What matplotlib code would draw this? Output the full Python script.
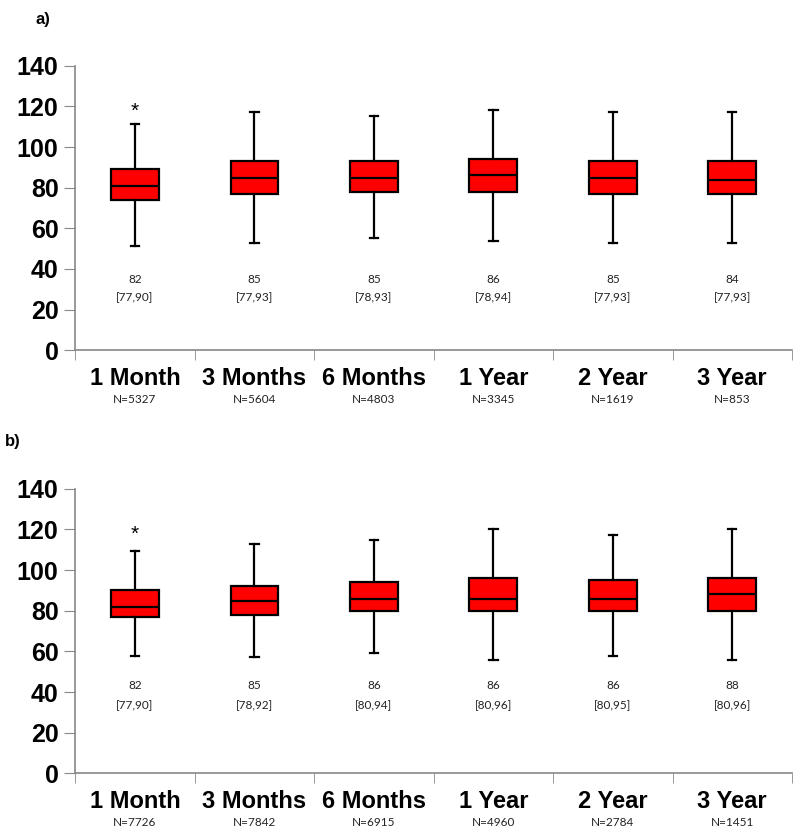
import matplotlib
matplotlib.use("Agg")
import matplotlib.pyplot as plt
from matplotlib.ticker import FixedLocator, NullFormatter

categories = ["1 Month", "3 Months", "6 Months", "1 Year", "2 Year", "3 Year"]

# panel a) box statistics
a_whislo = [51.5, 53, 55, 54, 53, 53]
a_q1 = [74, 77, 78, 78, 77, 77]
a_med = [81, 85, 85, 86, 85, 84]
a_q3 = [89, 93, 93, 94, 93, 93]
a_whishi = [111.5, 117, 115.5, 118, 117, 117]
a_median_txt = ["82", "85", "85", "86", "85", "84"]
a_iqr_txt = ["[77,90]", "[77,93]", "[78,93]", "[78,94]", "[77,93]", "[77,93]"]
a_n = ["N=5327", "N=5604", "N=4803", "N=3345", "N=1619", "N=853"]

# panel b)
b_whislo = [57.5, 57, 59, 56, 57.5, 56]
b_q1 = [77, 78, 80, 80, 80, 80]
b_med = [82, 85, 86, 86, 86, 88]
b_q3 = [90, 92, 94, 96, 95, 96]
b_whishi = [109.5, 113, 115, 120, 117.5, 120]
b_median_txt = ["82", "85", "86", "86", "86", "88"]
b_iqr_txt = ["[77,90]", "[78,92]", "[80,94]", "[80,96]", "[80,95]", "[80,96]"]
b_n = ["N=7726", "N=7842", "N=6915", "N=4960", "N=2784", "N=1451"]

star_y = 117.5  # asterisk over 1 Month (text centre)

plt.rcParams["font.family"] = ["Liberation Sans", "DejaVu Sans"]

fig = plt.figure(figsize=(8, 8.32), dpi=100)
ax_a = fig.add_axes([0.094, 0.579, 0.896, 0.342])
ax_b = fig.add_axes([0.094, 0.0705, 0.896, 0.342])


def draw_panel(ax, whislo, q1, med, q3, whishi, med_txt, iqr_txt, ns, txt_y):
    pos = list(range(1, len(categories) + 1))
    stats = []
    for i in range(len(categories)):
        stats.append({"whislo": whislo[i], "q1": q1[i], "med": med[i],
                      "q3": q3[i], "whishi": whishi[i], "fliers": []})
    ax.bxp(stats, positions=pos, widths=0.4, patch_artist=True, showfliers=False,
           boxprops=dict(facecolor="#ff0000", edgecolor="black", linewidth=1.6),
           medianprops=dict(color="black", linewidth=1.6),
           whiskerprops=dict(color="black", linewidth=1.6),
           capprops=dict(color="black", linewidth=1.6), capwidths=0.07)

    ax.set_xlim(0.5, len(categories) + 0.5)
    ax.set_ylim(0, 140)
    ax.set_yticks(range(0, 141, 20))
    ax.tick_params(axis="y", labelsize=18, length=8, color="#888888", pad=4)
    for lab in ax.get_yticklabels():
        lab.set_fontweight("bold")
    ax.xaxis.set_major_locator(FixedLocator([]))
    ax.xaxis.set_minor_locator(FixedLocator([p - 0.5 for p in pos] + [pos[-1] + 0.5]))
    ax.xaxis.set_minor_formatter(NullFormatter())
    ax.tick_params(axis="x", which="minor", length=7, color="#888888")
    for s in ["top", "right"]:
        ax.spines[s].set_visible(False)
    for s in ["left", "bottom"]:
        ax.spines[s].set_color("#888888")
        ax.spines[s].set_linewidth(1.2)

    for i, p in enumerate(pos):
        ax.text(p, txt_y[0], med_txt[i], ha="center", va="center", fontsize=8.5,
                color="#222222", family=["Lato", "DejaVu Sans"])
        ax.text(p, txt_y[1], iqr_txt[i], ha="center", va="center", fontsize=8.5,
                color="#222222", family=["Lato", "DejaVu Sans"])
        ax.annotate(categories[i], xy=(p, 0), xycoords=("data", "axes fraction"),
                    xytext=(0, -28), textcoords="offset pixels", ha="center",
                    va="center", fontsize=17, fontweight="bold", annotation_clip=False)
        ax.annotate(ns[i], xy=(p, 0), xycoords=("data", "axes fraction"),
                    xytext=(0, -49), textcoords="offset pixels", ha="center",
                    va="center", fontsize=8.5, family=["Lato", "DejaVu Sans"],
                    color="#222222", annotation_clip=False)
    ax.text(1, star_y, "*", ha="center", va="center", fontsize=15)


draw_panel(ax_a, a_whislo, a_q1, a_med, a_q3, a_whishi,
           a_median_txt, a_iqr_txt, a_n, (35, 26))
draw_panel(ax_b, b_whislo, b_q1, b_med, b_q3, b_whishi,
           b_median_txt, b_iqr_txt, b_n, (43, 33.5))

fig.text(0.044, 0.976, "a)", fontsize=12, fontweight="bold", va="center", ha="left")
fig.text(0.006, 0.469, "b)", fontsize=12, fontweight="bold", va="center", ha="left")

fig.savefig("out.png", dpi=100)
